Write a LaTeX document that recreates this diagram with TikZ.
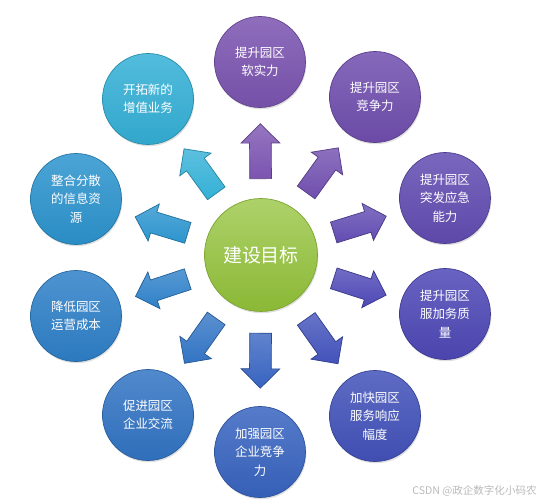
\documentclass[tikz,border=0pt]{standalone}
\usepackage{fontspec}
\usepackage{tikz}
\setmainfont{Noto Sans CJK SC}
\usetikzlibrary{shapes.arrows, shadows, positioning, calc}
\definecolor{cgoal}{RGB}{146,194,56}
\definecolor{csoft}{RGB}{123,84,176}
\definecolor{ccomp}{RGB}{112,78,174}
\definecolor{cemerg}{RGB}{98,76,178}
\definecolor{cserv}{RGB}{78,72,182}
\definecolor{cresp}{RGB}{66,82,186}
\definecolor{cent}{RGB}{56,100,192}
\definecolor{cexch}{RGB}{50,116,196}
\definecolor{ccost}{RGB}{46,128,200}
\definecolor{cinfo}{RGB}{44,148,206}
\definecolor{cnew}{RGB}{52,176,214}

\begin{document}
\begin{tikzpicture}[x=0.02cm, y=-0.02cm,
  goal/.style={circle, minimum size=2.26cm, inner sep=0pt, top color=cgoal!75!white, bottom color=cgoal!95!black, draw=cgoal!85!black, text=white, font=\fontsize{10.8}{13}\selectfont, drop shadow={opacity=0.25, shadow xshift=0.5pt, shadow yshift=-1pt}},
  ring/.style={circle, minimum size=1.82cm, inner sep=0pt, align=center, top color=#1!85!white, bottom color=#1!95!black, draw=#1!80!black, text=white, font=\fontsize{7.1}{10.5}\selectfont, drop shadow={opacity=0.25, shadow xshift=0.5pt, shadow yshift=-1pt}},
  arr/.style={single arrow, single arrow tip angle=90, single arrow head extend=0.17cm, minimum height=1.1cm, inner xsep=0pt, inner ysep=0.21cm, top color=#1!80!white, bottom color=#1, draw=#1!75!black, pos=0.46, sloped, allow upside down}
]
\useasboundingbox (0,0) rectangle (539,500);
\node[goal] (goal) at (261,255) {建设目标};
\node[ring=csoft] (soft) at (260,62) {提升园区\\软实力};
\node[ring=ccomp] (comp) at (375,97) {提升园区\\竞争力};
\node[ring=cemerg] (emerg) at (445,198) {提升园区\\突发应急\\能力};
\node[ring=cserv] (serv) at (445,314) {提升园区\\服加务质\\量};
\node[ring=cresp] (resp) at (375,416) {加快园区\\服务响应\\幅度};
\node[ring=cent] (ent) at (260,452) {加强园区\\企业竞争\\力};
\node[ring=cexch] (exch) at (148,415) {促进园区\\企业交流};
\node[ring=ccost] (cost) at (76,316) {降低园区\\运营成本};
\node[ring=cinfo] (info) at (76,199) {整合分散\\的信息资\\源};
\node[ring=cnew] (new) at (148,99) {开拓新的\\增值业务};
\path (goal) -- node[arr=csoft] (asoft) {} (soft);
\path (goal) -- node[arr=ccomp] (acomp) {} (comp);
\path (goal) -- node[arr=cemerg] (aemerg) {} (emerg);
\path (goal) -- node[arr=cserv] (aserv) {} (serv);
\path (goal) -- node[arr=cresp] (aresp) {} (resp);
\path (goal) -- node[arr=cent] (aent) {} (ent);
\path (goal) -- node[arr=cexch] (aexch) {} (exch);
\path (goal) -- node[arr=ccost] (acost) {} (cost);
\path (goal) -- node[arr=cinfo] (ainfo) {} (info);
\path (goal) -- node[arr=cnew] (anew) {} (new);
\node[text=gray!55, font=\fontsize{6}{7}\selectfont, anchor=east, inner sep=0pt] (mark) at (537,491) {CSDN @政企数字化小码农};
\end{tikzpicture}
\end{document}
